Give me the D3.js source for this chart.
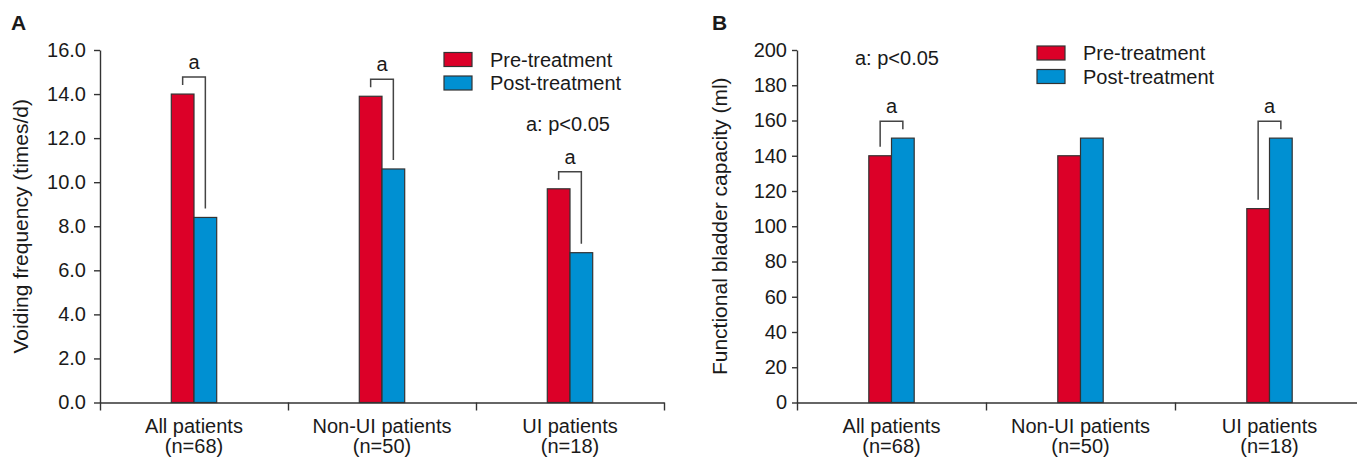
<!DOCTYPE html>
<html>
<head>
<meta charset="utf-8">
<script src="https://cdn.jsdelivr.net/npm/d3@7"></script>
<style>
  html, body { margin: 0; padding: 0; background: #fff; }
  svg { display: block; }
  text { font-family: "Liberation Sans", Arial, Helvetica, sans-serif; fill: #1a1a1a; }
</style>
</head>
<body>
<svg id="chart" width="1357" height="459"></svg>
<script>
// Groups and their sample sizes
const groups = ["All patients", "Non-UI patients", "UI patients"];
const groupN = ["(n=68)", "(n=50)", "(n=18)"];
const seriesNames = ["Pre-treatment", "Post-treatment"];

// Panel A: voiding frequency (times/d)
const voidingPre = [14.0, 13.9, 9.7];
const voidingPost = [8.4, 10.6, 6.8];
const voidingSig = [true, true, true];
const voidingTicks = [0, 2, 4, 6, 8, 10, 12, 14, 16];

// Panel B: functional bladder capacity (ml)
const capacityPre = [140, 140, 110];
const capacityPost = [150, 150, 150];
const capacitySig = [true, false, true];
const capacityTicks = [0, 20, 40, 60, 80, 100, 120, 140, 160, 180, 200];

const colors = ["#dc0028", "#0090d2"];
const svg = d3.select("#chart");

function drawPanel(cfg) {
  const g = svg.append("g");
  const y = d3.scaleLinear().domain([0, cfg.ticks[cfg.ticks.length - 1]]).range([402.5, 50]);
  const x = d3.scaleBand().domain(groups).range([cfg.left, cfg.right]).paddingInner(0).paddingOuter(0);
  const edge = d3.scalePoint().domain(d3.range(groups.length + 1)).range([cfg.left, cfg.right]);
  const barW = 22.7;

  // panel letter
  g.append("text").attr("x", cfg.letterX).attr("y", 30)
    .style("font-size", "21px").style("font-weight", "bold").text(cfg.letter);

  // y axis
  const yAxis = g.append("g").attr("transform", `translate(${cfg.left},0)`)
    .call(d3.axisLeft(y).tickValues(cfg.ticks).tickFormat(cfg.fmt)
      .tickSize(cfg.tickLen).tickSizeOuter(0).tickPadding(cfg.tickPad));
  yAxis.selectAll("path, line").attr("stroke", "#333").attr("stroke-width", 1.4);
  yAxis.selectAll("text").style("font-size", "20px").attr("fill", "#1a1a1a")
    .style("font-family", '"Liberation Sans", Arial, sans-serif');

  // x axis with ticks at group boundaries
  const xAxis = g.append("g").attr("transform", `translate(0,${y(0)})`)
    .call(d3.axisBottom(edge).tickFormat("").tickSize(8).tickSizeOuter(0));
  xAxis.selectAll("path, line").attr("stroke", "#333").attr("stroke-width", 1.4);

  // category labels
  groups.forEach((name, i) => {
    const cx = x(name) + x.bandwidth() / 2;
    const t = g.append("text").attr("text-anchor", "middle").style("font-size", "20px");
    t.append("tspan").attr("x", cx).attr("y", 433).text(name);
    t.append("tspan").attr("x", cx).attr("y", 453).text(groupN[i]);
  });

  // y title
  g.append("text")
    .attr("transform", `translate(${cfg.titleX},${(y(0) + y.range()[1]) / 2}) rotate(-90)`)
    .attr("text-anchor", "middle").style("font-size", "21px").text(cfg.title);

  // bars
  const rows = groups.map((name, i) => ({ name, vals: [cfg.pre[i], cfg.post[i]], sig: cfg.sig[i] }));
  rows.forEach(r => {
    const cx = x(r.name) + x.bandwidth() / 2;
    r.vals.forEach((v, k) => {
      g.append("rect")
        .attr("x", cx - barW + k * barW).attr("y", y(v))
        .attr("width", barW).attr("height", y(0) - y(v))
        .attr("fill", colors[k]).attr("stroke", "#333").attr("stroke-width", 1.2);
    });
    // significance bracket
    if (r.sig) {
      const xl = cx - barW / 2, xr = cx + barW / 2;
      const top = Math.min(y(r.vals[0]), y(r.vals[1])) - 17;
      const bl = y(r.vals[0]) - 9, br = y(r.vals[1]) - 9;
      g.append("path")
        .attr("d", `M${xl},${bl}V${top}H${xr}V${br}`)
        .attr("fill", "none").attr("stroke", "#444").attr("stroke-width", 1.5);
      g.append("text").attr("x", cx).attr("y", top - 8)
        .attr("text-anchor", "middle").style("font-size", "20px").text("a");
    }
  });

  // legend
  seriesNames.forEach((s, k) => {
    const ly = cfg.legendY + k * 23.5;
    g.append("rect").attr("x", cfg.legendX).attr("y", ly).attr("width", 28).attr("height", 14)
      .attr("fill", colors[k]).attr("stroke", "#333").attr("stroke-width", 1.2);
    g.append("text").attr("x", cfg.legendX + 46).attr("y", ly + 14)
      .style("font-size", "20px").text(s);
  });

  // significance note
  g.append("text").attr("x", cfg.noteX).attr("y", cfg.noteY)
    .style("font-size", "20px").text("a: p<0.05");
}

drawPanel({
  letter: "A", letterX: 11, left: 100, right: 664,
  ticks: voidingTicks, fmt: d3.format(".1f"), tickLen: 6, tickPad: 8,
  title: "Voiding frequency (times/d)", titleX: 28,
  pre: voidingPre, post: voidingPost, sig: voidingSig,
  legendX: 444, legendY: 52.5, noteX: 526, noteY: 131
});

drawPanel({
  letter: "B", letterX: 712, left: 797, right: 1364,
  ticks: capacityTicks, fmt: d3.format("d"), tickLen: 5, tickPad: 5,
  title: "Functional bladder capacity (ml)", titleX: 727,
  pre: capacityPre, post: capacityPost, sig: capacitySig,
  legendX: 1037, legendY: 46, noteX: 855, noteY: 65
});
</script>
</body>
</html>
